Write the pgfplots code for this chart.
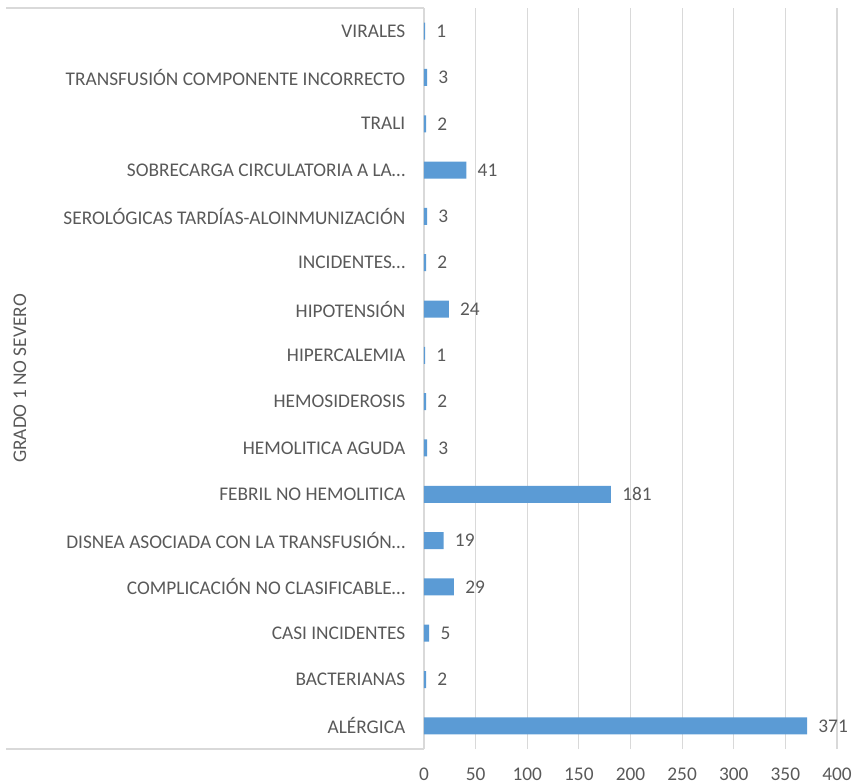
\documentclass[border=0pt]{standalone}
\usepackage{pgfplots}
\pgfplotsset{compat=1.18}
\usepackage{fontspec}
\setmainfont{Carlito}
\definecolor{bar}{HTML}{5B9BD5}
\definecolor{txt}{HTML}{595959}
\definecolor{grid}{HTML}{D9D9D9}
\begin{document}
\begin{tikzpicture}
\begin{axis}[
  scale only axis,
  width=309.75pt, height=555.75pt,
  xbar, bar width=12.75pt,
  xmin=0, xmax=400, ymin=-0.5, ymax=15.5,
  xtick={0,50,...,400},
  ytick={0,...,15},
  yticklabels={ALÉRGICA,BACTERIANAS,CASI INCIDENTES,COMPLICACIÓN NO CLASIFICABLE…,DISNEA ASOCIADA CON LA TRANSFUSIÓN…,FEBRIL NO HEMOLITICA,HEMOLITICA AGUDA,HEMOSIDEROSIS,HIPERCALEMIA,HIPOTENSIÓN,INCIDENTES…,SEROLÓGICAS TARDÍAS-ALOINMUNIZACIÓN,SOBRECARGA CIRCULATORIA A LA…,TRALI,TRANSFUSIÓN COMPONENTE INCORRECTO,VIRALES},
  axis x line*=bottom, axis y line*=left,
  x axis line style={draw=none},
  y axis line style={draw=grid, line width=0.8pt},
  major tick length=0pt,
  xmajorgrids, major grid style={draw=grid, line width=0.8pt},
  tick label style={font=\fontsize{14.5}{17}\selectfont, text=txt},
  /pgf/number format/assume math mode=true,
  yticklabel style={xshift=-10.5pt},
  xticklabel style={yshift=-11pt},
  nodes near coords,
  nodes near coords style={font=\fontsize{14.5}{17}\selectfont, text=txt, anchor=west, xshift=5pt},
  clip=false,
]
\addplot[fill=bar, draw=none] coordinates {
(371,0) (2,1) (5,2) (29,3) (19,4) (181,5) (3,6) (2,7) (1,8) (24,9) (2,10) (3,11) (41,12) (2,13) (3,14) (1,15)};
\draw[grid, line width=0.8pt] (rel axis cs:0,0) -- ++(-313.5pt,0pt);
\draw[grid, line width=0.8pt] (rel axis cs:0,1) -- ++(-313.5pt,0pt);
\node[rotate=90, font=\fontsize{14.5}{17}\selectfont, text=txt] at ([xshift=-303pt]rel axis cs:0,0.5) {GRADO 1 NO SEVERO};
\end{axis}
\pgfresetboundingbox
\path (-318pt,-26.25pt) rectangle (321pt,561.75pt);
\end{tikzpicture}
\end{document}
